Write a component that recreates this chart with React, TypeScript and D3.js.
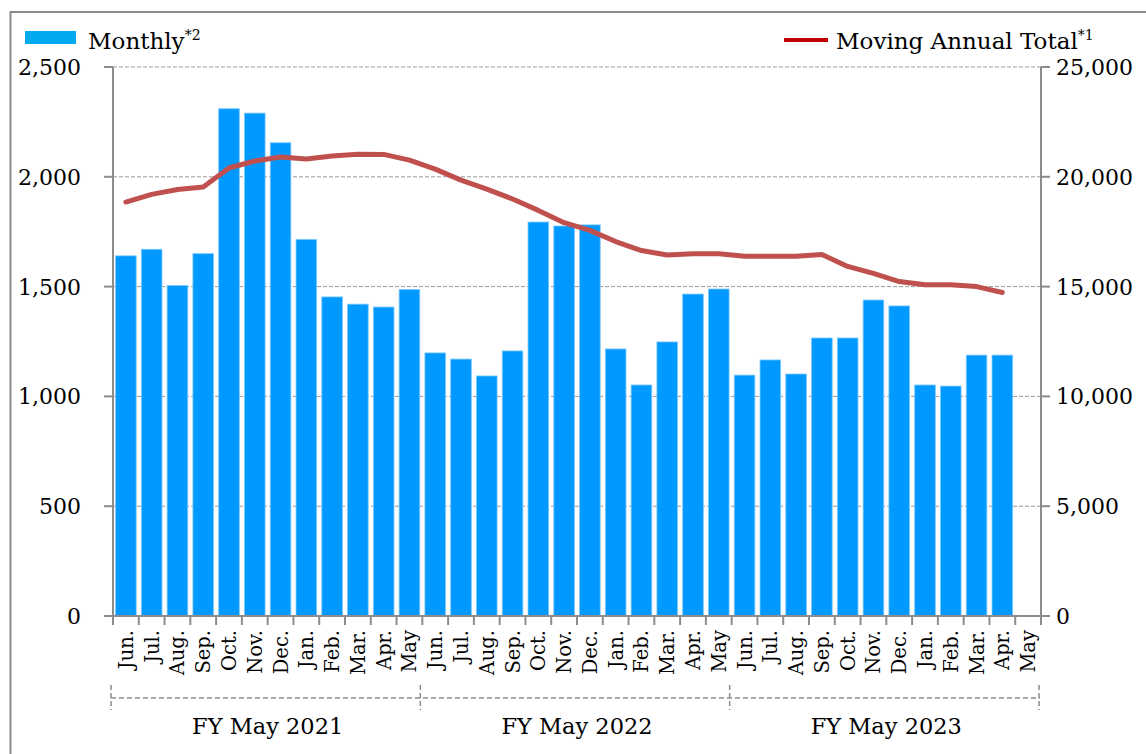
import React from "react";
import * as d3 from "d3";

// month labels, 3 fiscal years (Jun..May)
const months = ["Jun.", "Jul.", "Aug.", "Sep.", "Oct.", "Nov.", "Dec.", "Jan.", "Feb.", "Mar.", "Apr.", "May"];
const fiscalYears = ["FY May 2021", "FY May 2022", "FY May 2023"];

// monthly values (left axis)
const monthly = [
  1640, 1670, 1505, 1650, 2310, 2290, 2155, 1715, 1453, 1420, 1407, 1487,
  1198, 1170, 1093, 1207, 1794, 1776, 1781, 1216, 1052, 1248, 1466, 1489,
  1097, 1166, 1102, 1266, 1266, 1439, 1412, 1052, 1047, 1188, 1188,
];

// moving annual total (right axis)
const movingTotal = [
  18850, 19200, 19420, 19540, 20400, 20720, 20900, 20810, 20950, 21030, 21020, 20760,
  20350, 19850, 19440, 18990, 18470, 17910, 17560, 17050, 16640, 16440, 16500, 16500,
  16380, 16380, 16380, 16460, 15920, 15600, 15230, 15080, 15080, 15000, 14730,
];

const leftTicks = [0, 500, 1000, 1500, 2000, 2500];
const rightTicks = [0, 5000, 10000, 15000, 20000, 25000];

const FONT = "'DejaVu Serif', serif";
const AXIS = "#8c8c8c";

const App = () => {
  const width = 1146;
  const height = 754;
  const left = 113;
  const right = 1041;
  const top = 67;
  const bottom = 616;

  const categories = fiscalYears.flatMap((fy, i) => months.map((m) => `${i}-${m}`));

  const x = d3.scaleBand().domain(categories).range([left, right]).paddingInner(0.2).paddingOuter(0.1);
  const yL = d3.scaleLinear().domain([0, 2500]).range([bottom, top]);
  const yR = d3.scaleLinear().domain([0, 25000]).range([bottom, top]);

  const step = x.step();
  const bandStart = (i) => left + step * i;

  const line = d3
    .line<number>()
    .x((d, i) => (x(categories[i]) as number) + x.bandwidth() / 2)
    .y((d) => yR(d));

  const bracketY = 698;

  return (
    <svg width={width} height={height} style={{ position: "absolute", left: 0, top: 0, background: "#fff" }}>
      {/* frame */}
      <path d={`M${width + 2},12 H10.5 V${height + 2}`} fill="none" stroke={AXIS} strokeWidth={2} />

      {/* legend */}
      <rect x={25} y={31} width={51} height={13} fill="#00aaee" />
      <text x={88} y={49} fontFamily={FONT} fontSize={23}>
        Monthly<tspan fontSize={14} dy={-9}>*2</tspan>
      </text>
      <line x1={784} x2={828} y1={40} y2={40} stroke="#c00000" strokeWidth={4} />
      <text x={836} y={49} fontFamily={FONT} fontSize={23}>
        Moving Annual Total<tspan fontSize={14} dy={-9}>*1</tspan>
      </text>

      {/* gridlines */}
      {leftTicks.filter((t) => t > 0).map((t) => (
        <line key={t} x1={left} x2={right} y1={yL(t)} y2={yL(t)} stroke="#999" strokeDasharray="4,2" strokeWidth={1} />
      ))}

      {/* bars */}
      {monthly.map((v, i) => (
        <rect
          key={i}
          x={x(categories[i])}
          y={yL(v)}
          width={x.bandwidth()}
          height={bottom - yL(v)}
          fill="#0099ff"
          stroke="#7cc8ff"
          strokeWidth={0.8}
        />
      ))}

      {/* moving annual total */}
      <path d={line(movingTotal) as string} fill="none" stroke="#c0504d" strokeWidth={5} strokeLinejoin="round" strokeLinecap="round" />

      {/* left axis */}
      <line x1={left} x2={left} y1={top} y2={bottom} stroke={AXIS} strokeWidth={2} />
      {leftTicks.map((t) => (
        <g key={t}>
          <line x1={left - 9} x2={left} y1={yL(t)} y2={yL(t)} stroke={AXIS} strokeWidth={2} />
          <text x={81} y={yL(t) + 8} textAnchor="end" fontFamily={FONT} fontSize={22}>
            {d3.format(",")(t)}
          </text>
        </g>
      ))}

      {/* right axis */}
      <line x1={right} x2={right} y1={top} y2={bottom} stroke={AXIS} strokeWidth={2} />
      {rightTicks.map((t) => (
        <g key={t}>
          <line x1={right} x2={right + 9} y1={yR(t)} y2={yR(t)} stroke={AXIS} strokeWidth={2} />
          <text x={1056} y={yR(t) + 8} textAnchor="start" fontFamily={FONT} fontSize={22}>
            {d3.format(",")(t)}
          </text>
        </g>
      ))}

      {/* x axis */}
      <line x1={left - 9} x2={right + 9} y1={bottom} y2={bottom} stroke={AXIS} strokeWidth={2} />
      {d3.range(categories.length + 1).map((i) => (
        <line key={i} x1={bandStart(i)} x2={bandStart(i)} y1={bottom} y2={bottom + 9} stroke={AXIS} strokeWidth={2} />
      ))}
      {categories.map((c, i) => {
        const cx = bandStart(i) + step / 2;
        return (
          <text
            key={c}
            transform={`translate(${cx + 7},${630}) rotate(-90)`}
            textAnchor="end"
            fontFamily={FONT}
            fontSize={19.5}
          >
            {months[i % 12]}
          </text>
        );
      })}

      {/* fiscal year brackets */}
      <line x1={bandStart(0) - 2} x2={bandStart(36) - 1} y1={bracketY} y2={bracketY} stroke={AXIS} strokeDasharray="5,3" strokeWidth={1.5} />
      {[0, 12, 24, 36].map((i) => (
        <line key={i} x1={bandStart(i) - 2} x2={bandStart(i) - 2} y1={bracketY - 13} y2={bracketY + 12} stroke={AXIS} strokeDasharray="5,3" strokeWidth={1.5} />
      ))}
      {fiscalYears.map((fy, i) => (
        <text key={fy} x={bandStart(i * 12 + 6)} y={734} textAnchor="middle" fontFamily={FONT} fontSize={22.5}>
          {fy}
        </text>
      ))}
    </svg>
  );
};

export default App;
